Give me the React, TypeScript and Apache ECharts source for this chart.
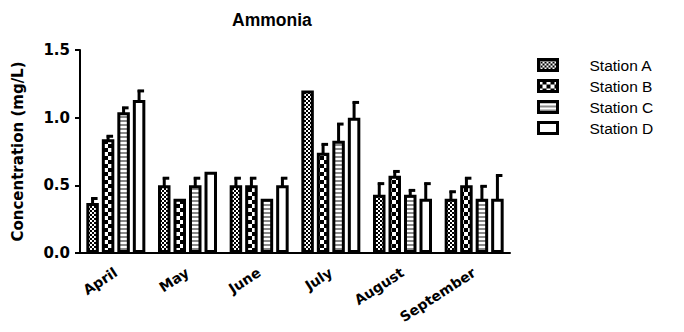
import React, { useEffect, useRef } from "react";
import * as echarts from "echarts";

const categories = ["April", "May", "June", "July", "August", "September"];
const stationNames = ["Station A", "Station B", "Station C", "Station D"];
const stationA = [0.37, 0.5, 0.5, 1.2, 0.43, 0.4];
const stationB = [0.84, 0.4, 0.5, 0.74, 0.57, 0.5];
const stationC = [1.04, 0.5, 0.4, 0.83, 0.43, 0.4];
const stationD = [1.13, 0.6, 0.5, 1.0, 0.4, 0.4];
const errA = [0.04, 0.06, 0.06, 0, 0.09, 0.06];
const errB = [0.03, 0, 0.06, 0.07, 0.04, 0.06];
const errC = [0.04, 0.06, 0, 0.13, 0.04, 0.1];
const errD = [0.075, 0, 0.06, 0.12, 0.12, 0.18];
const yTicks = [0, 0.5, 1.0, 1.5];

const FONT = "'Liberation Sans', Arial, sans-serif";
const WIDE = "'DejaVu Sans', sans-serif";

function makeCanvas(w: number, h: number, draw: (ctx: CanvasRenderingContext2D) => void) {
  const c = document.createElement("canvas");
  c.width = w;
  c.height = h;
  const ctx = c.getContext("2d")!;
  draw(ctx);
  return c;
}

function patterns() {
  const a = makeCanvas(4, 4, (ctx) => {
    ctx.fillStyle = "#fff";
    ctx.fillRect(0, 0, 4, 4);
    ctx.fillStyle = "#000";
    ctx.fillRect(0, 0, 2, 2);
    ctx.fillRect(2, 2, 2, 2);
  });
  const b = makeCanvas(8, 8, (ctx) => {
    ctx.fillStyle = "#000";
    ctx.fillRect(0, 0, 8, 8);
    ctx.fillStyle = "#fff";
    ctx.fillRect(0, 0, 4, 4);
    ctx.fillRect(4, 4, 4, 4);
  });
  const c = makeCanvas(4, 4, (ctx) => {
    ctx.fillStyle = "#fff";
    ctx.fillRect(0, 0, 4, 4);
    ctx.fillStyle = "#8a8a8a";
    ctx.fillRect(0, 0, 4, 2);
  });
  const toPat = (cv: HTMLCanvasElement) => ({
    image: cv.toDataURL(),
    repeat: "repeat",
    imageWidth: cv.width,
    imageHeight: cv.height,
  });
  return [toPat(a), toPat(b), toPat(c), "#ffffff"];
}

export default function App() {
  const ref = useRef<HTMLDivElement>(null);
  useEffect(() => {
    if (!ref.current) return;
    const chart = echarts.init(ref.current, undefined, { renderer: "svg" });
    const pats = patterns();
    const values = [stationA, stationB, stationC, stationD];
    const errs = [errA, errB, errC, errD];
    const barWidth = 12.5;
    const gap = 3;
    const pitch = barWidth + gap;

    const barSeries = values.map((v, i) => ({
      name: stationNames[i],
      type: "bar",
      data: v,
      barWidth,
      barGap: (gap / barWidth) * 100 + "%",
      itemStyle: { color: pats[i], borderColor: "#000", borderWidth: 3 },
      z: 2,
    }));

    const errSeries = values.map((v, i) => ({
      type: "custom",
      name: stationNames[i] + " err",
      data: v.map((val, j) => [j, val, val + errs[i][j]]),
      z: 3,
      silent: true,
      renderItem: (params: any, api: any) => {
        const x = api.value(0);
        const y0 = api.value(1);
        const y1 = api.value(2);
        if (y1 - y0 < 0.001) return { type: "group", children: [] };
        const p0 = api.coord([x, y0]);
        const p1 = api.coord([x, y1]);
        const cx = p0[0] + (i - 1.5) * pitch;
        return {
          type: "group",
          children: [
            {
              type: "line",
              shape: { x1: cx, y1: p0[1] + 1, x2: cx, y2: p1[1] },
              style: { stroke: "#000", lineWidth: 3 },
            },
            {
              type: "line",
              shape: { x1: cx - 1.5, y1: p1[1] + 1, x2: cx + 5, y2: p1[1] + 1 },
              style: { stroke: "#000", lineWidth: 3 },
            },
          ],
        };
      },
    }));

    chart.setOption({
      animation: false,
      title: {
        text: "Ammonia",
        left: 227,
        top: 6,
        textStyle: { fontFamily: FONT, fontWeight: "bold", fontSize: 17.5, color: "#000" },
      },
      legend: {
        data: stationNames,
        orient: "vertical",
        left: 532,
        top: 52,
        itemWidth: 19,
        itemHeight: 11,
        itemGap: 5,
        icon: "rect",
        itemStyle: { borderColor: "#000", borderWidth: 3 },
        textStyle: { fontFamily: FONT, fontSize: 15.5, color: "#000", padding: [0, 0, 0, 27] },
      },
      grid: { left: 80, right: 174, top: 50, bottom: 79, containLabel: false },
      xAxis: {
        type: "category",
        data: categories,
        axisLine: { lineStyle: { color: "#000", width: 2 } },
        axisTick: { alignWithLabel: true, length: 5, lineStyle: { color: "#000", width: 2 } },
        axisLabel: {
          rotate: 33,
          fontFamily: WIDE,
          fontWeight: "bold",
          fontSize: 14,
          color: "#000",
          margin: 18,
        },
      },
      yAxis: {
        type: "value",
        min: yTicks[0],
        max: yTicks[yTicks.length - 1],
        interval: 0.5,
        name: "Concentration (mg/L)",
        nameLocation: "middle",
        nameRotate: 90,
        nameGap: 55,
        nameTextStyle: { fontFamily: WIDE, fontWeight: "bold", fontSize: 15, color: "#000" },
        axisLine: { show: true, lineStyle: { color: "#000", width: 2 } },
        axisTick: { show: true, length: 5, lineStyle: { color: "#000", width: 2 } },
        splitLine: { show: false },
        axisLabel: {
          fontFamily: WIDE,
          fontWeight: "bold",
          fontSize: 15,
          color: "#000",
          margin: 10,
          formatter: (v: number) => v.toFixed(1),
        },
      },
      series: [...barSeries, ...errSeries],
    });
    return () => chart.dispose();
  }, []);
  return <div ref={ref} style={{ width: 684, height: 332, margin: -8 }} />;
}
